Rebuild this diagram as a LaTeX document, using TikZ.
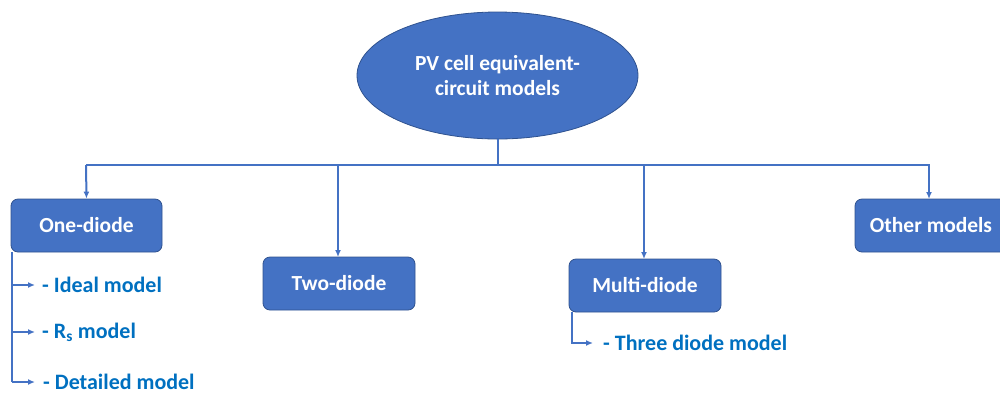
\documentclass[tikz,border=0pt]{standalone}
\usepackage{fontspec}
\setmainfont{Carlito}
\usetikzlibrary{shapes.geometric,arrows.meta}
\definecolor{boxblue}{HTML}{4472C4}
\definecolor{edgeblue}{HTML}{2F528F}
\definecolor{txtblue}{HTML}{0070C0}
\tikzset{
  mainbox/.style={draw=edgeblue, line width=0.8pt, fill=boxblue, rounded corners=7pt, text=white, font=\bfseries\fontsize{21.5}{25}\selectfont, minimum height=53pt, inner sep=0pt},
  conn/.style={draw=boxblue, line width=2pt},
  arr/.style={conn, -{Latex[length=7pt,width=6pt]}},
  subtext/.style={anchor=west, text=txtblue, font=\bfseries\fontsize{22}{25}\selectfont, inner sep=0pt}
}
\begin{document}
\begin{tikzpicture}[x=1pt,y=-1pt]
\useasboundingbox (0,0) rectangle (1000,392);
\node[ellipse, draw=edgeblue, line width=0.8pt, fill=boxblue, minimum width=281pt, minimum height=127pt, inner sep=0pt, text=white, align=center, font=\bfseries\fontsize{21.5}{25}\selectfont] (root) at (497.5,75.5) {PV cell equivalent-\\circuit models};
\node[mainbox, minimum width=151pt] (one) at (86.5,225.5) {One-diode};
\node[mainbox, minimum width=152pt] (two) at (339,283.5) {Two-diode};
\node[mainbox, minimum width=152pt] (multi) at (645,285.5) {Multi-diode};
\node[mainbox, minimum width=152pt] (other) at (931,225.5) {Other models};
\coordinate (hub) at (497.5,165);
\draw[conn] (root.south) -- (hub);
\draw[conn] (86,165) -- (930,165);
\draw[arr] (86,165) -- (one.north);
\draw[arr] (338,165) -- (338,257);
\draw[arr] (644,165) -- (644,259);
\draw[arr] (929,165) -- (929,199);
\node[subtext] (s1) at (42,285) {- Ideal model};
\node[subtext] (s2) at (42,332) {- R\textsubscript{s} model};
\node[subtext] (s3) at (43,382) {- Detailed model};
\node[subtext] (s4) at (603,343) {- Three diode model};
\coordinate (oneleft) at (12,252);
\draw[conn] (oneleft) -- (12,382);
\draw[arr] (12,285) -- (35,285);
\draw[arr] (12,332) -- (35,332);
\draw[arr] (12,382) -- (35,382);
\coordinate (multileft) at (572,312);
\draw[arr] (multileft) -- (572,343) -- (593,343);
\end{tikzpicture}
\end{document}
